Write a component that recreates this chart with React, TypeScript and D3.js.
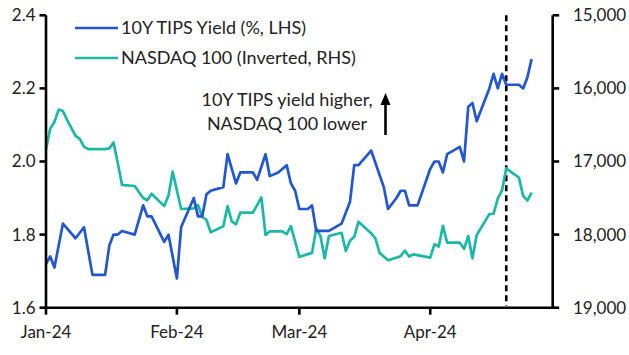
import React from "react";
import * as d3 from "d3";

const tipsDates = ["2024-01-01","2024-01-02","2024-01-03","2024-01-05","2024-01-08","2024-01-10","2024-01-12","2024-01-15","2024-01-16","2024-01-17","2024-01-18","2024-01-19","2024-01-22","2024-01-24","2024-01-25","2024-01-26","2024-01-29","2024-01-30",
"2024-02-01","2024-02-02","2024-02-05","2024-02-06","2024-02-07","2024-02-08","2024-02-09","2024-02-12","2024-02-13","2024-02-14","2024-02-15","2024-02-16","2024-02-19","2024-02-20","2024-02-22","2024-02-23","2024-02-25","2024-02-27","2024-02-28","2024-02-29",
"2024-03-01","2024-03-03","2024-03-04","2024-03-05","2024-03-08","2024-03-11","2024-03-13","2024-03-14","2024-03-15","2024-03-18","2024-03-21","2024-03-22","2024-03-24","2024-03-25","2024-03-26","2024-03-27","2024-03-29",
"2024-04-01","2024-04-02","2024-04-03","2024-04-04","2024-04-05","2024-04-08","2024-04-09","2024-04-10","2024-04-11","2024-04-12","2024-04-15","2024-04-16","2024-04-17","2024-04-18","2024-04-19","2024-04-22","2024-04-23","2024-04-24","2024-04-25"];
const tipsValues = [1.72,1.74,1.71,1.83,1.79,1.82,1.69,1.69,1.77,1.80,1.80,1.81,1.80,1.88,1.85,1.85,1.78,1.80,
1.68,1.82,1.90,1.85,1.85,1.91,1.92,1.93,2.02,1.98,1.94,1.97,1.97,1.95,2.02,1.96,1.97,1.99,1.94,1.92,
1.87,1.87,1.88,1.81,1.81,1.83,1.89,1.99,1.99,2.03,1.93,1.87,1.90,1.92,1.92,1.88,1.88,
1.98,2.00,2.00,1.97,2.02,2.04,2.00,2.15,2.16,2.11,2.20,2.24,2.20,2.24,2.21,2.21,2.20,2.23,2.28];

const ndxDates = ["2024-01-01","2024-01-02","2024-01-03","2024-01-04","2024-01-05","2024-01-06","2024-01-08","2024-01-09","2024-01-10","2024-01-11","2024-01-15","2024-01-16","2024-01-17","2024-01-18","2024-01-19","2024-01-22","2024-01-24","2024-01-25","2024-01-26","2024-01-29","2024-01-30","2024-01-31",
"2024-02-02","2024-02-05","2024-02-06","2024-02-07","2024-02-08","2024-02-09","2024-02-12","2024-02-13","2024-02-14","2024-02-15","2024-02-16","2024-02-19","2024-02-21","2024-02-22","2024-02-23","2024-02-26","2024-02-27","2024-02-28",
"2024-03-01","2024-03-04","2024-03-05","2024-03-06","2024-03-07","2024-03-08","2024-03-11","2024-03-12","2024-03-13","2024-03-14","2024-03-15","2024-03-18","2024-03-19","2024-03-20","2024-03-22","2024-03-25","2024-03-26","2024-03-27","2024-03-28",
"2024-04-01","2024-04-02","2024-04-03","2024-04-04","2024-04-05","2024-04-08","2024-04-09","2024-04-10","2024-04-11","2024-04-12","2024-04-15","2024-04-16","2024-04-17","2024-04-18","2024-04-19","2024-04-22","2024-04-23","2024-04-24","2024-04-25"];
const ndxValues = [16840,16550,16460,16290,16310,16430,16650,16690,16800,16830,16830,16820,16740,17020,17320,17335,17500,17530,17440,17610,17470,17140,
17650,17640,17595,17755,17800,17970,17885,17610,17820,17860,17700,17700,17490,18005,17955,17955,17995,17885,
18305,18250,17915,18020,18325,18020,17975,18225,18085,18030,17825,17980,18050,18250,18350,18295,18220,18300,18270,
18315,18130,18165,17880,18110,18110,18195,18020,18325,18005,17720,17715,17505,17395,17095,17220,17470,17535,17425];

const leftTicks = [1.6, 1.8, 2.0, 2.2, 2.4];
const rightTicks = [15000, 16000, 17000, 18000, 19000];
const monthTicks = ["2024-01-01", "2024-02-01", "2024-03-01", "2024-04-01"];
const xDomain = ["2024-01-01", "2024-04-30"];
const markerDate = "2024-04-19";
const seriesNames = ["10Y TIPS Yield (%, LHS)", "NASDAQ 100 (Inverted, RHS)"];
const noteLines = ["10Y TIPS yield higher,", "NASDAQ 100 lower"];

const BLUE = "#2356d2";
const TEAL = "#1cb8a6";
const FONT = "Lato, 'Noto Sans', sans-serif";

export default function App() {
  const parse = d3.timeParse("%Y-%m-%d");
  const W = 629, H = 355;
  const L = 46, R = 552.7, T = 15.3, B = 307.7;

  const x = d3.scaleTime().domain(xDomain.map((d) => parse(d) as Date)).range([L, R]);
  const yL = d3.scaleLinear().domain([1.6, 2.4]).range([B, T]);
  const yR = d3.scaleLinear().domain([15000, 19000]).range([T, B]);

  const tips = tipsDates.map((d, i) => ({ d: parse(d) as Date, v: tipsValues[i] }));
  const ndx = ndxDates.map((d, i) => ({ d: parse(d) as Date, v: ndxValues[i] }));

  const tipsLine = d3.line<{ d: Date; v: number }>().x((p) => x(p.d)).y((p) => yL(p.v));
  const ndxLine = d3.line<{ d: Date; v: number }>().x((p) => x(p.d)).y((p) => yR(p.v));

  const fmt = d3.format(",");
  const xm = x(parse(markerDate) as Date);
  const fs = 17;
  const fsText = 18;

  return (
    <svg width={W} height={H} style={{ position: "absolute", left: 0, top: 0, background: "#fff" }} fontFamily={FONT}>
      {/* dashed marker */}
      <line x1={xm} x2={xm} y1={T} y2={B - 2} stroke="#000" strokeWidth={2.6} strokeDasharray="6,4" />

      {/* series */}
      <path d={ndxLine(ndx) || ""} fill="none" stroke={TEAL} strokeWidth={2.7} strokeLinejoin="round" />
      <path d={tipsLine(tips) || ""} fill="none" stroke={BLUE} strokeWidth={2.7} strokeLinejoin="round" />

      {/* axes */}
      <line x1={L} x2={L} y1={T} y2={B} stroke="#000" strokeWidth={2.6} />
      <line x1={R} x2={R} y1={T} y2={B} stroke="#000" strokeWidth={2.6} />
      <line x1={L - 1.3} x2={R + 1.3} y1={B} y2={B} stroke="#000" strokeWidth={2.6} />

      {leftTicks.map((t) => (
        <g key={"l" + t}>
          <line x1={L - 6.5} x2={L} y1={yL(t)} y2={yL(t)} stroke="#000" strokeWidth={2.6} />
          <text x={35.5} y={yL(t)} dy="0.35em" textAnchor="end" fontSize={fs} fill="#222">{t.toFixed(1)}</text>
        </g>
      ))}
      {rightTicks.map((t) => (
        <g key={"r" + t}>
          <line x1={R} x2={R + 6.5} y1={yR(t)} y2={yR(t)} stroke="#000" strokeWidth={2.6} />
          <text x={573} y={yR(t)} dy="0.35em" textAnchor="start" fontSize={fs} fill="#222">{fmt(t)}</text>
        </g>
      ))}
      {monthTicks.map((m) => {
        const xv = x(parse(m) as Date);
        return (
          <g key={m}>
            <line x1={xv} x2={xv} y1={B} y2={B + 7} stroke="#000" strokeWidth={2.6} />
            <text x={xv} y={338} textAnchor="middle" fontSize={fs} fill="#222">{d3.timeFormat("%b-%y")(parse(m) as Date)}</text>
          </g>
        );
      })}

      {/* legend */}
      {seriesNames.map((n, i) => (
        <g key={n}>
          <line x1={75} x2={118} y1={28 + i * 30} y2={28 + i * 30} stroke={i === 0 ? BLUE : TEAL} strokeWidth={2.7} />
          <text x={121} y={28 + i * 30} dy="0.35em" fontSize={fsText} fill="#222">{n}</text>
        </g>
      ))}

      {/* annotation */}
      {noteLines.map((s, i) => (
        <text key={s} x={287} y={106 + i * 24} textAnchor="middle" fontSize={fsText} fill="#222">{s}</text>
      ))}
      <line x1={385.5} x2={385.5} y1={104} y2={135} stroke="#000" strokeWidth={2.6} />
      <path d="M385.5,93 L380.5,105 L390.5,105 Z" fill="#000" />
    </svg>
  );
}
